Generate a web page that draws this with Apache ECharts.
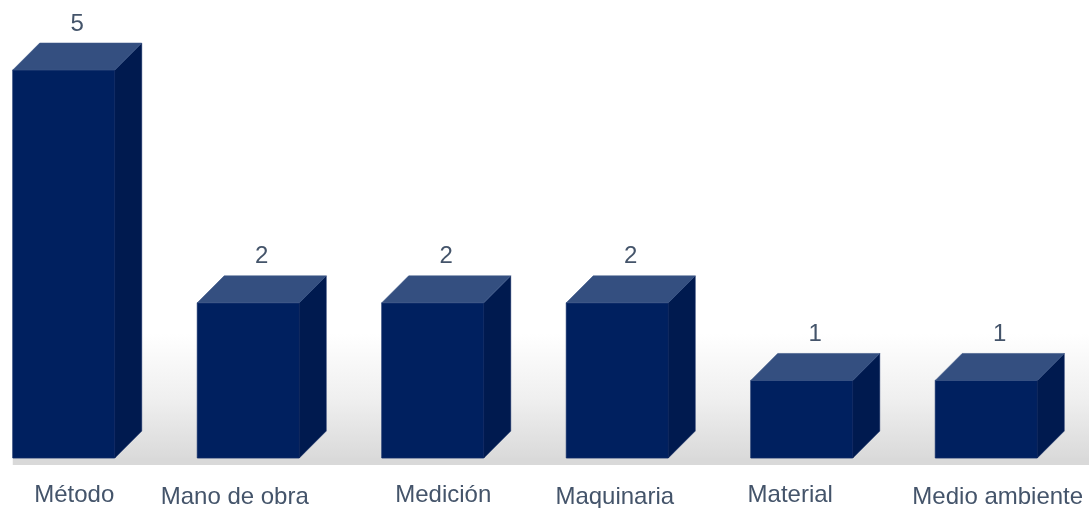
<!DOCTYPE html>
<html>
<head>
<meta charset="utf-8">
<script src="https://cdn.jsdelivr.net/npm/echarts@6/dist/echarts.min.js"></script>
<style>
  html, body { margin: 0; padding: 0; background: #ffffff; }
  #chart { width: 1089px; height: 508px; }
</style>
</head>
<body>
<div id="chart"></div>
<script>
// Causes grouped by category (Ishikawa 6M) and how many were found in each
const categories = ['Método', 'Mano de obra', 'Medición', 'Maquinaria', 'Material', 'Medio ambiente'];
const counts = [5, 2, 2, 2, 1, 1];

// Box colours
const FRONT = '#00205f';
const SIDE = '#001a4f';
const TOP = '#344f80';
const TEXT = '#44546a';
const FONT = '"Liberation Sans", Arial, sans-serif';

// Box proportions relative to the category band
const FACE_RATIO = 0.553;
const DEPTH_RATIO = 0.146;

// Small per-label nudges of the category captions (x, y in px)
const LABEL_NUDGE_X = [-3, -27, -3, -16, -25, -2];
const LABEL_NUDGE_Y = [0, 2, 0, 2, 0, 2];

function boxGeometry(api, idx, val) {
  const band = api.size([1, 0])[0];
  const w = band * FACE_RATIO;
  const d = band * DEPTH_RATIO;
  const c = api.coord([idx, val]);
  const b = api.coord([idx, 0]);
  const left = c[0] - (w + d) / 2;
  return { cx: c[0], left: left, right: left + w, top: c[1], bottom: b[1], d: d };
}

// Draws one 3D box: front, side and top faces, plus its value label
function renderBox(params, api) {
  const idx = api.value(0);
  const val = api.value(1);
  const g = boxGeometry(api, idx, val);
  const L = g.left, R = g.right, T = g.top, B = g.bottom, d = g.d;
  return {
    type: 'group',
    children: [
      { type: 'polygon', shape: { points: [[L, T], [R, T], [R, B], [L, B]] },
        style: { fill: FRONT, stroke: '#0d2a66', lineWidth: 0.8 } },
      { type: 'polygon', shape: { points: [[R, T], [R + d, T - d], [R + d, B - d], [R, B]] },
        style: { fill: SIDE, stroke: '#0a245e', lineWidth: 0.6 } },
      { type: 'polygon', shape: { points: [[L, T], [L + d, T - d], [R + d, T - d], [R, T]] },
        style: { fill: TOP, stroke: '#3d5788', lineWidth: 0.6 } },
      { type: 'text', x: g.cx, y: T - d - 19,
        style: { text: String(val), fill: TEXT, font: '24px ' + FONT, align: 'center', verticalAlign: 'middle' } }
    ]
  };
}

// Back wall with a soft grey fade and the floor edge below the boxes
function renderFloor(params, api) {
  const cs = params.coordSys;
  const g = boxGeometry(api, 0, 0);
  const x0 = g.left;
  const x1 = cs.x + cs.width + 20;
  const bottom = g.bottom;
  return {
    type: 'group',
    children: [
      { type: 'rect', shape: { x: x0, y: cs.y, width: x1 - x0, height: bottom - cs.y },
        style: { fill: new echarts.graphic.LinearGradient(0, 0, 0, 1, [
          { offset: 0, color: '#ffffff' },
          { offset: 0.68, color: '#ffffff' },
          { offset: 0.85, color: '#efefef' },
          { offset: 1, color: '#dadada' }
        ]) } },
      { type: 'rect', shape: { x: x0, y: bottom, width: x1 - x0, height: 7 },
        style: { fill: '#d9d9d9' } }
    ]
  };
}

const axisCategories = categories.map(function (name, i) {
  const nx = LABEL_NUDGE_X[i], ny = LABEL_NUDGE_Y[i];
  return {
    value: name,
    textStyle: {
      padding: [Math.max(ny, 0), Math.max(-nx, 0) * 2, 0, Math.max(nx, 0) * 2]
    }
  };
});

const chart = echarts.init(document.getElementById('chart'), null, { renderer: 'canvas' });
chart.setOption({
  animation: false,
  backgroundColor: '#ffffff',
  grid: { left: -15, right: -3, top: 70, bottom: 50, outerBoundsMode: 'none', containLabel: false },
  xAxis: {
    type: 'category',
    data: axisCategories,
    axisLine: { show: false },
    axisTick: { show: false },
    splitLine: { show: false },
    axisLabel: { color: TEXT, fontSize: 24, fontFamily: FONT, margin: 25, interval: 0 }
  },
  yAxis: {
    type: 'value',
    min: 0,
    max: 5,
    interval: 1,
    show: false,
    splitLine: { show: false }
  },
  series: [
    {
      type: 'custom',
      z: 1,
      clip: false,
      silent: true,
      renderItem: renderFloor,
      data: [[0, 0]]
    },
    {
      type: 'custom',
      z: 2,
      clip: false,
      renderItem: renderBox,
      encode: { x: 0, y: 1 },
      data: counts.map(function (v, i) { return [i, v]; })
    }
  ]
});
</script>
</body>
</html>
